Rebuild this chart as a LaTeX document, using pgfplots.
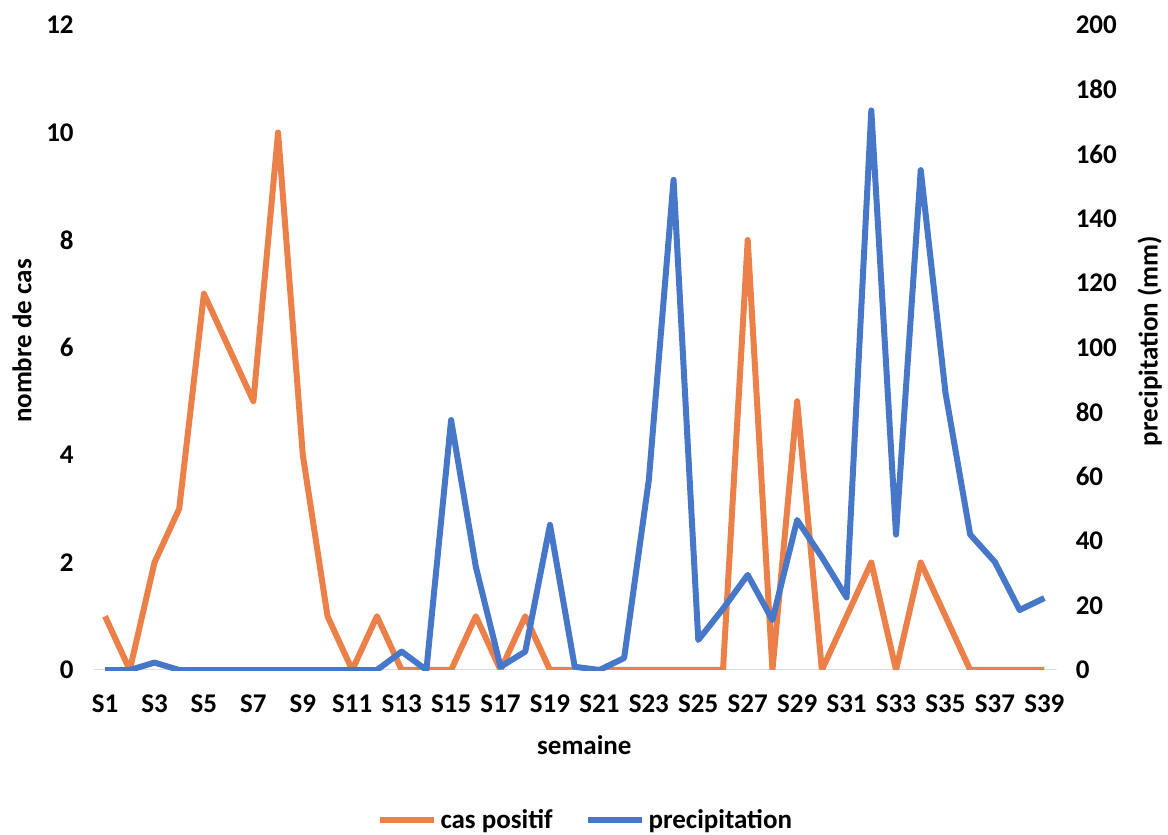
\documentclass[border=0pt]{standalone}
\usepackage{fontspec}
\setmainfont{Carlito}
\usepackage{pgfplots}
\pgfplotsset{compat=1.18}

\definecolor{casorange}{HTML}{EC8049}
\definecolor{precblue}{HTML}{4777C8}

% weekly data: week number, positive cases, precipitation (mm)
\pgfplotstableread{
semaine cas precip
1  1  0
2  0  0
3  2  2.3
4  3  0
5  7  0
6  6  0
7  5  0
8  10 0
9  4  0
10 1  0
11 0  0
12 1  0
13 0  5.7
14 0  0
15 0  77.5
16 1  32
17 0  1
18 1  5.7
19 0  45
20 0  1
21 0  0
22 0  3.7
23 0  59
24 0  152
25 0  9.3
26 0  19
27 8  29.5
28 0  15.5
29 5  46.5
30 0  35
31 1  22.5
32 2  173.5
33 0  42
34 2  155
35 1  86
36 0  42
37 0  33.5
38 0  18.6
39 0  22.3
}\weekdata

\newcommand{\chartfont}{\fontsize{13.5}{15}\selectfont\bfseries}

\pgfplotsset{
  base/.style={
    scale only axis, width=482pt, height=322.5pt,
    xmin=0.5, xmax=39.5, ymin=0,
    axis line style={draw=none},
    major tick length=0pt,
    tick label style={font=\chartfont},
    label style={font=\chartfont},
    /pgf/number format/assume math mode=true,
  },
}

\begin{document}
\begin{tikzpicture}
\useasboundingbox (-46.35pt,-82.5pt) rectangle (537.65pt,335pt);
\begin{axis}[base,
  ymax=12, ytick={0,2,...,12},
  xtick={1,3,...,39},
  xticklabels={S1,S3,S5,S7,S9,S11,S13,S15,S17,S19,S21,S23,S25,S27,S29,S31,S33,S35,S37,S39},
  xticklabel style={yshift=-9pt},
  yticklabel style={xshift=-6pt},
  xlabel={semaine},
  xlabel style={at={(axis description cs:0.51,-0.1163)}, anchor=center},
  ylabel={nombre de cas},
  ylabel style={at={(axis description cs:-0.0733,0.51)}, anchor=center},
]
\addplot[gray!25, line width=0.8pt, forget plot] coordinates {(0.5,0) (39.5,0)};
\addplot[casorange, line width=3pt, line join=round] table[x=semaine, y=cas] {\weekdata};
\end{axis}
\begin{axis}[base,
  ymax=200, ytick={0,20,...,200},
  hide x axis,
  yticklabel pos=right,
  yticklabel style={xshift=6pt},
  ylabel={precipitation (mm)},
  ylabel style={at={(axis description cs:1.0965,0.51)}, anchor=center},
  legend style={at={(axis description cs:0.512,-0.2326)}, anchor=center,
    draw=none, fill=none, font=\chartfont, legend columns=2,
    /tikz/every even column/.append style={column sep=14pt}},
  legend image code/.code={\draw[#1] (0pt,0pt) -- (27pt,0pt);},
]
\addlegendimage{casorange, line width=3pt}
\addlegendentry{cas positif}
\addplot[precblue, line width=3pt, line join=round] table[x=semaine, y=precip] {\weekdata};
\addlegendentry{precipitation}
\end{axis}
\end{tikzpicture}
\end{document}
